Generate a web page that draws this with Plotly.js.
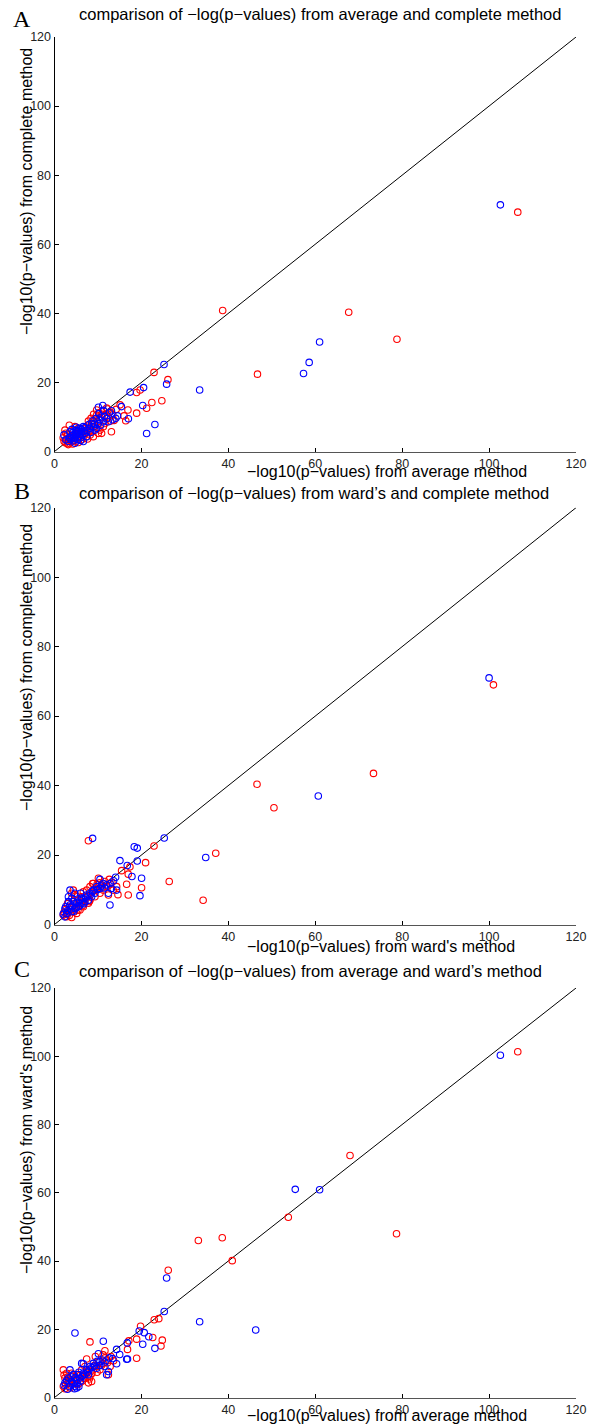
<!DOCTYPE html>
<html>
<head>
<meta charset="utf-8">
<script src="https://cdn.plot.ly/plotly-3.0.1.min.js"></script>
<style>
html,body{margin:0;padding:0;background:#fff;}
#chart{width:591px;height:1425px;}
</style>
</head>
<body>
<div id="chart"></div>
<script>
// ---------- Data ----------
const tickValues = [0, 20, 40, 60, 80, 100, 120];
const tickLabels = ["0", "20", "40", "60", "80", "100", "120"];
const diagX = [0, 120];
const diagY = [0, 120];

// Panel A: average (x) vs complete (y)
const aRedX = [106.6, 38.7, 46.7, 67.7, 78.8, 22.9, 26.1, 19.7, 18.9, 24.7, 22.4, 21.2, 18.9, 13.1, 16.4, 16.9, 16.0, 15.1, 13.7, 12.0, 9.7,
  2.41, 2.80, 3.18, 3.56, 3.95, 4.33, 4.71, 5.10, 5.48, 3.41, 5.86, 6.25, 6.63, 7.40, 8.16, 8.54, 8.93, 9.31, 9.69, 10.46, 10.84, 11.23, 11.61, 10.08, 8.93, 7.78, 7.01, 10.46, 11.61, 12.38, 12.76,
  2.2, 3.0, 4.0, 2.5, 3.3, 4.5, 5.5,
  2.0, 2.6, 3.0, 3.6, 4.2, 4.8, 5.2, 6.0, 6.6, 7.2, 7.6, 8.2, 8.8, 9.4, 9.9, 10.2, 10.9, 11.3, 12.2, 9.0, 8.4, 7.8, 12.9, 13.4, 14.2];
const aRedY = [69.3, 40.8, 22.4, 40.3, 32.5, 22.9, 20.8, 17.8, 17.1, 14.7, 14.2, 12.5, 11.1, 5.7, 8.9, 12.0, 10.3, 13.5, 9.0, 12.6, 12.0,
  6.2, 3.4, 2.0, 4.3, 2.9, 6.2, 7.2, 5.25, 6.7, 7.6, 4.3, 3.4, 5.7, 4.3, 6.2, 7.2, 8.6, 9.5, 10.5, 6.2, 5.25, 7.2, 8.1, 5.25, 4.3, 7.6, 6.7, 9.8, 10.5, 10.0, 11.4,
  3.0, 5.0, 4.0, 2.5, 3.0, 3.2, 2.6,
  4.0, 5.3, 2.3, 3.2, 2.2, 2.8, 4.1, 5.2, 4.2, 5.6, 3.6, 4.8, 5.7, 7.4, 8.6, 11.2, 10.8, 11.8, 12.3, 10.8, 9.6, 8.8, 8.8, 10.6, 12.2];
const aBlueX = [102.6, 57.3, 58.6, 61.0, 33.4, 25.2, 25.8, 20.5, 17.4, 20.3, 23.1, 21.2, 17.0, 15.4, 14.5, 14.1, 13.1, 11.1, 10.1,
  2.18, 3.56, 4.33, 4.71, 5.10, 5.48, 5.86, 6.25, 6.63, 7.01, 7.40, 4.71, 6.63, 8.16, 8.54, 8.93, 9.69, 10.08, 10.46, 10.84, 11.23, 11.99, 12.38, 11.23, 9.31,
  4.2, 5.0, 5.3, 4.8, 5.8, 6.0, 3.8, 4.5, 5.5, 6.8,
  2.6, 3.2, 3.9, 4.4, 4.9, 5.2, 5.6, 6.2, 6.5, 7.0, 7.5, 7.9, 8.3, 8.8, 9.2, 9.6, 10.2, 10.6, 11.5, 12.6, 13.4, 3.4, 4.0, 5.0, 6.0];
const aBlueY = [71.4, 22.6, 25.8, 31.7, 17.8, 25.2, 19.5, 18.5, 17.2, 13.3, 7.8, 5.2, 9.5, 13.0, 10.3, 9.6, 11.8, 13.3, 12.8,
  4.8, 5.7, 4.8, 3.8, 6.2, 5.25, 6.7, 5.7, 7.2, 5.25, 4.3, 2.4, 2.9, 6.7, 8.1, 7.2, 6.7, 8.1, 9.1, 10.0, 8.6, 9.5, 8.6, 11.9, 6.2,
  5.5, 4.5, 3.5, 6.0, 5.0, 4.0, 3.5, 4.2, 6.0, 6.0,
  3.4, 2.9, 4.4, 3.1, 5.0, 5.8, 4.3, 6.4, 4.8, 6.9, 6.0, 7.8, 5.5, 8.9, 7.9, 9.6, 10.9, 7.6, 10.2, 11.2, 9.2, 4.0, 6.4, 7.0, 3.2];

// Panel B: ward's (x) vs complete (y)
const bRedX = [101.0, 73.4, 46.6, 50.5, 37.1, 34.2, 7.8, 22.9, 20.96, 17.36, 15.44, 16.97, 26.4, 16.6, 20.04, 16.97, 8.77,
  2.03, 2.8, 3.2, 3.95, 4.33, 3.56, 4.7, 5.5, 6.25, 6.63, 7.4, 8.16, 8.93, 9.7, 10.46, 11.2, 12.0, 12.4, 7.8, 6.63, 5.86, 5.1, 3.95, 8.16, 9.3, 10.8, 12.8, 13.5, 14.3, 10.1,
  2.2, 2.6, 3.0, 3.4, 4.0, 4.5, 5.0, 5.4, 6.0, 6.4, 7.0, 7.6, 8.0, 8.6, 9.2, 9.8, 10.4, 11.0, 11.6, 12.6, 13.2, 5.2, 4.6, 3.0, 14.6];
const bRedY = [69.0, 43.5, 40.4, 33.6, 20.5, 7.0, 24.1, 22.6, 17.8, 16.6, 15.5, 14.5, 12.4, 11.6, 10.6, 8.5, 11.8,
  2.7, 2.25, 3.7, 9.0, 9.9, 5.1, 6.1, 7.0, 8.0, 9.4, 9.9, 10.9, 11.8, 9.9, 9.0, 9.9, 10.9, 8.5, 6.1, 5.1, 4.2, 3.2, 2.0, 7.0, 8.0, 11.4, 11.8, 9.9, 10.9, 13.3,
  3.5, 4.3, 3.0, 2.6, 4.4, 3.6, 5.0, 4.1, 6.2, 5.4, 7.2, 8.1, 6.6, 9.2, 10.2, 11.6, 12.0, 10.6, 12.4, 13.0, 12.2, 8.0, 8.6, 6.0, 8.6];
const bBlueX = [100.0, 60.7, 34.8, 8.77, 25.25, 18.35, 19.04, 15.06, 19.04, 16.74, 17.82, 20.04, 14.06, 19.66, 12.76, 10.46, 14.29,
  2.4, 3.2, 3.56, 4.33, 4.7, 5.1, 5.5, 5.86, 6.25, 6.63, 7.0, 7.4, 8.16, 8.54, 8.93, 9.7, 10.46, 11.2, 12.0, 12.4, 13.1, 3.56, 4.7, 3.95, 2.8,
  2.0, 2.6, 3.0, 3.6, 4.0, 4.4, 5.0, 5.4, 5.8, 6.2, 6.8, 7.2, 7.8, 8.2, 8.8, 9.3, 9.9, 10.8, 11.5, 12.8, 13.6, 4.0, 3.2, 6.0, 2.4];
const bBlueY = [71.0, 37.0, 19.3, 24.8, 24.9, 22.4, 22.0, 18.4, 18.3, 17.0, 13.8, 13.3, 13.6, 8.3, 5.6, 13.0, 9.9,
  4.6, 8.0, 5.6, 6.6, 4.6, 6.1, 5.1, 7.0, 6.1, 7.5, 6.6, 8.5, 9.0, 8.0, 9.9, 10.9, 10.4, 11.8, 11.4, 9.0, 10.4, 9.9, 9.0, 3.7, 3.2,
  3.0, 5.2, 4.0, 4.4, 5.2, 3.8, 4.8, 6.4, 5.4, 7.6, 6.0, 7.9, 7.0, 8.4, 9.6, 9.0, 10.1, 11.0, 10.5, 11.8, 12.6, 7.6, 6.6, 9.0, 2.2];

// Panel C: average (x) vs ward's (y)
const cRedX = [106.6, 68.0, 53.8, 33.1, 38.6, 40.9, 78.7, 26.17, 24.0, 22.95, 19.8, 22.6, 8.16, 17.1, 18.9, 24.8, 24.5, 16.8, 18.9, 11.6, 7.4, 12.4,
  2.03, 2.4, 2.8, 3.2, 2.03, 3.56, 4.33, 5.1, 5.86, 6.63, 7.4, 8.16, 8.93, 9.7, 10.46, 11.2, 12.0, 7.0, 6.25, 8.54, 7.8, 3.95, 2.8, 12.8, 11.2,
  2.2, 2.6, 3.0, 3.4, 3.8, 4.2, 4.6, 5.0, 5.4, 6.0, 6.4, 7.0, 7.6, 8.0, 8.6, 9.2, 9.8, 10.2, 10.8, 11.6, 12.2, 13.0, 2.4, 9.4, 13.6];
const cRedY = [101.3, 70.9, 52.8, 46.0, 46.8, 40.1, 48.0, 37.3, 23.1, 22.8, 20.9, 17.6, 16.3, 16.6, 17.1, 16.8, 15.1, 14.1, 11.5, 13.7, 11.3, 6.7,
  8.1, 5.7, 7.1, 4.3, 3.3, 2.8, 5.2, 6.7, 4.3, 5.7, 7.1, 6.2, 8.1, 9.1, 8.1, 10.0, 11.0, 9.1, 8.1, 4.7, 4.3, 7.1, 4.7, 9.1, 12.5,
  6.6, 3.8, 6.0, 5.0, 3.6, 6.2, 4.0, 5.6, 3.8, 6.6, 4.8, 5.6, 7.8, 5.4, 7.0, 9.4, 7.4, 10.4, 9.4, 11.6, 10.2, 12.0, 2.6, 12.0, 10.8];
const cBlueX = [102.6, 55.4, 61.0, 33.4, 46.3, 25.8, 25.25, 19.5, 20.65, 21.7, 4.71, 11.23, 16.74, 20.3, 23.1, 16.6, 16.8, 14.29, 10.1, 6.63, 14.29,
  2.4, 3.2, 3.95, 4.33, 4.7, 5.1, 5.5, 5.86, 6.63, 7.4, 7.8, 8.16, 8.93, 9.7, 10.46, 11.6, 12.4, 3.56, 5.1, 6.25, 12.0,
  2.2, 2.8, 3.4, 3.8, 4.2, 4.8, 5.2, 5.6, 6.0, 6.4, 7.0, 7.6, 8.0, 8.6, 9.2, 9.8, 10.4, 11.0, 11.6, 12.6, 13.4, 3.0, 4.6, 5.6, 15.0];
const cBlueY = [100.3, 61.0, 60.9, 22.2, 19.8, 35.0, 25.2, 19.5, 19.0, 17.8, 18.9, 16.5, 16.0, 15.6, 14.4, 11.2, 11.3, 14.1, 12.8, 9.9, 9.9,
  4.3, 5.7, 4.7, 6.7, 3.3, 5.2, 6.7, 5.7, 7.1, 8.1, 6.7, 9.1, 10.0, 8.6, 10.5, 9.1, 7.6, 8.1, 2.8, 10.0, 6.7,
  3.6, 5.0, 3.2, 6.0, 4.0, 5.8, 4.2, 7.4, 4.8, 6.2, 6.8, 7.4, 8.2, 8.8, 9.2, 10.6, 9.4, 11.0, 10.4, 11.6, 11.4, 2.4, 2.6, 3.2, 12.6];

// ---------- Layout helpers ----------
const W = 591, H = 1425;
const px = v => v / W;          // pixel x -> paper x
const py = v => 1 - v / H;      // pixel y -> paper y
const RED = "#ff0000", BLUE = "#0000ff";

function scatter(x, y, color, xa, ya) {
  return {x: x, y: y, type: "scatter", mode: "markers", xaxis: xa, yaxis: ya,
    marker: {symbol: "circle-open", size: 6.5, color: color, line: {width: 1.1, color: color}},
    cliponaxis: false, showlegend: false, hoverinfo: "x+y"};
}
function diag(xa, ya) {
  return {x: diagX, y: diagY, type: "scatter", mode: "lines", xaxis: xa, yaxis: ya,
    line: {color: "#000", width: 1}, showlegend: false, hoverinfo: "skip"};
}

const panels = [
  {xa: "x", ya: "y", rx: aRedX, ry: aRedY, bx: aBlueX, by: aBlueY, top: 37, bottom: 451.5},
  {xa: "x2", ya: "y2", rx: bRedX, ry: bRedY, bx: bBlueX, by: bBlueY, top: 507.7, bottom: 924.5},
  {xa: "x3", ya: "y3", rx: cRedX, ry: cRedY, bx: cBlueX, by: cBlueY, top: 988, bottom: 1397.5}
];

const data = [];
panels.forEach(p => {
  data.push(diag(p.xa, p.ya));
  data.push(scatter(p.rx, p.ry, RED, p.xa, p.ya));
  data.push(scatter(p.bx, p.by, BLUE, p.xa, p.ya));
});

const tickFont = {family: "Liberation Sans, Arial, sans-serif", size: 12.5, color: "#222"};
function xAxis(anchor) {
  return {domain: [px(54.5), px(576)], range: [0, 120], anchor: anchor,
    tickmode: "array", tickvals: tickValues, ticktext: tickLabels,
    ticks: "inside", ticklen: 4, tickwidth: 1, tickcolor: "#000",
    showline: true, linecolor: "#555", linewidth: 1.5, mirror: false,
    showgrid: false, zeroline: false, tickfont: tickFont, fixedrange: true};
}
function yAxis(anchor, top, bottom) {
  return {domain: [py(bottom), py(top)], range: [0, 120], anchor: anchor,
    tickmode: "array", tickvals: tickValues, ticktext: tickLabels,
    ticks: "inside", ticklen: 4, tickwidth: 1, tickcolor: "#000",
    showline: true, linecolor: "#000", linewidth: 1, mirror: false,
    showgrid: false, zeroline: false, tickfont: tickFont, fixedrange: true};
}

const sans = "Liberation Sans, Arial, sans-serif";
const serif = "Liberation Serif, Times New Roman, serif";
function ann(text, x, y, opts) {
  return Object.assign({text: text, xref: "paper", yref: "paper", x: px(x), y: py(y),
    showarrow: false, xanchor: "left", yanchor: "middle",
    font: {family: sans, size: 16, color: "#000"}}, opts || {});
}
const titleFont = {family: sans, size: 16.5, color: "#000"};
const letterFont = {family: serif, size: 24, color: "#000"};

const annotations = [
  ann("A", 22, 19, {xanchor: "center", font: letterFont}),
  ann("comparison of \u2212log(p\u2212values) from average and complete method", 77, 14, {font: titleFont}),
  ann("\u2212log10(p\u2212values) from average method", 245, 471),
  ann("\u2212log10(p\u2212values) from complete method", 26, 192, {xanchor: "center", textangle: -90}),

  ann("B", 22, 491, {xanchor: "center", font: letterFont}),
  ann("comparison of \u2212log(p\u2212values) from ward\u2019s and complete method", 77, 493, {font: titleFont}),
  ann("\u2212log10(p\u2212values) from ward's method", 245, 946),
  ann("\u2212log10(p\u2212values) from complete method", 26, 668, {xanchor: "center", textangle: -90}),

  ann("C", 22, 969, {xanchor: "center", font: letterFont}),
  ann("comparison of \u2212log(p\u2212values) from average and ward\u2019s method", 77, 971, {font: titleFont}),
  ann("\u2212log10(p\u2212values) from average method", 245, 1415),
  ann("\u2212log10(p\u2212values) from ward's method", 26, 1140, {xanchor: "center", textangle: -90})
];

const layout = {
  width: W, height: H,
  margin: {l: 0, r: 0, t: 0, b: 0},
  paper_bgcolor: "#fff", plot_bgcolor: "rgba(0,0,0,0)",
  showlegend: false,
  xaxis: xAxis("y"), yaxis: yAxis("x", panels[0].top, panels[0].bottom),
  xaxis2: xAxis("y2"), yaxis2: yAxis("x2", panels[1].top, panels[1].bottom),
  xaxis3: xAxis("y3"), yaxis3: yAxis("x3", panels[2].top, panels[2].bottom),
  annotations: annotations
};

Plotly.newPlot("chart", data, layout, {displayModeBar: false, staticPlot: true});
</script>
</body>
</html>
